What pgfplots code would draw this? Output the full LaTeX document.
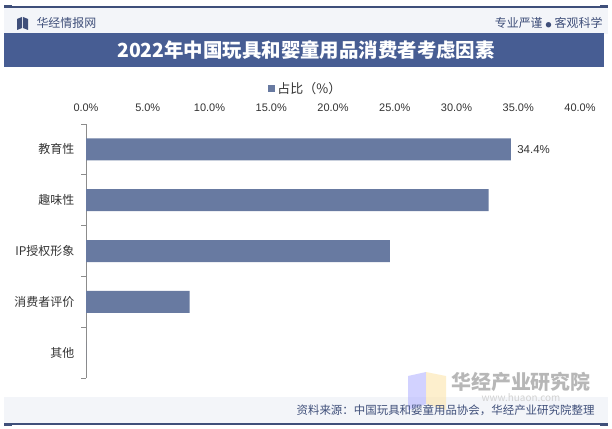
\documentclass[border=0pt]{standalone}
\usepackage{pgfplots}
\pgfplotsset{compat=1.18}
\usepackage{fontspec}
\setmainfont{Noto Sans CJK SC}
\newfontfamily\numfont{Liberation Sans}

\definecolor{barcol}{HTML}{687AA1}
\definecolor{bandcol}{HTML}{475D93}
\definecolor{headbg}{HTML}{F3F5F9}
\definecolor{navy}{HTML}{3F4F7A}
\definecolor{txtgray}{HTML}{333333}
\definecolor{axgray}{HTML}{8C8C8C}

\begin{document}
\begin{tikzpicture}[x=1bp,y=1bp]
\useasboundingbox (0,0) rectangle (612,428);
\fill[white] (0,0) rectangle (612,428);

% header
\fill[headbg] (4,394) rectangle (608,420);
\draw[navy, line width=1.2bp] (4,421) -- (608,421);
\fill[navy] (4,419.5) rectangle (12,422.5);
\fill[navy] (600,419.5) rectangle (608,422.5);
\fill[navy] (17,398) -- (22,400) -- (22,411) -- (17,409) -- cycle;
\fill[navy] (23,400) -- (28,398) -- (28,409) -- (23,411) -- cycle;
\node[anchor=west, font=\fontsize{12}{14}\selectfont, text=navy] at (33,405) {华经情报网};
\node[anchor=east, font=\fontsize{12}{14}\selectfont, text=navy] at (606,405) {专业严谨\hspace{3bp}{\fontsize{6}{8}\selectfont ●}\hspace{3bp}客观科学};

% title band
\fill[bandcol] (4,361) rectangle (604,395);
\node[font=\fontsize{19.5}{22}\selectfont\bfseries, text=white] at (306,378) {2022年中国玩具和婴童用品消费者考虑因素};

% footer
\fill[headbg] (4,5) rectangle (608,31);
\draw[navy, line width=1.2bp] (4,4) -- (608,4);
\fill[navy] (4,2.5) rectangle (12,5.5);
\fill[navy] (600,2.5) rectangle (608,5.5);

% watermark
\fill[blue!35!white, opacity=0.5] (408,18) -- (426,24) -- (426,56) -- (408,52) -- cycle;
\fill[yellow!40!orange!30!white, opacity=0.6] (426,24) -- (446,18) -- (446,52) -- (426,56) -- cycle;
\node[font=\fontsize{20}{22}\selectfont\bfseries, text=gray!70, opacity=0.8] at (521,46) {华经产业研究院};
\node[font=\fontsize{10}{12}\selectfont, text=gray!35] at (521,30) {www.huaon.com};

\node[anchor=east, font=\fontsize{11.5}{13}\selectfont, text=navy] at (598,18) {资料来源：中国玩具和婴童用品协会，华经产业研究院整理};

\begin{axis}[
    at={(86bp,304bp)}, anchor=north west,
    scale only axis,
    width=494bp, height=254bp,
    xbar, bar width=22bp, bar shift=0pt,
    xmin=0, xmax=40,
    ymin=-0.5, ymax=4.5,
    y dir=reverse,
    axis y line*=left,
    axis x line*=top,
    x axis line style={draw=none},
    y axis line style={draw=axgray, line width=0.8bp},
    xtick={0,5,...,40},
    xticklabels={0.0\%,5.0\%,10.0\%,15.0\%,20.0\%,25.0\%,30.0\%,35.0\%,40.0\%},
    xticklabel style={font=\numfont\fontsize{11}{12}\selectfont, text=txtgray, yshift=5bp},
    major x tick style={draw=none},
    ytick={0,1,2,3,4},
    yticklabels={教育性,趣味性,IP授权形象,消费者评价,其他},
    yticklabel style={font=\fontsize{12}{14}\selectfont, text=txtgray, xshift=-4bp},
    major y tick style={draw=none},
    minor ytick={-0.5,0.5,1.5,2.5,3.5,4.5},
    minor y tick style={draw=axgray, line width=0.8bp},
    minor tick length=5bp,
    tick align=outside,
    clip=false,
    legend style={at={(0.445,1.0)}, anchor=south, yshift=25bp, draw=none, fill=none,
        font=\fontsize{13}{15}\selectfont, text=txtgray,
        legend cell align=left},
    legend image code/.code={\fill[barcol] (0bp,-3.5bp) rectangle (7bp,3.5bp);},
]
\addplot[fill=barcol, draw=none] coordinates {(34.4,0) (32.6,1) (24.6,2) (8.4,3) (0,4)};
\addlegendentry{占比（\%）}
\addplot[draw=none, fill=none, forget plot, nodes near coords,
    point meta=explicit symbolic,
    every node near coord/.append style={font=\numfont\fontsize{11.5}{13}\selectfont, text=txtgray, anchor=west, xshift=3bp}]
    coordinates {(34.4,0) [34.4\%]};
\end{axis}
\end{tikzpicture}
\end{document}
